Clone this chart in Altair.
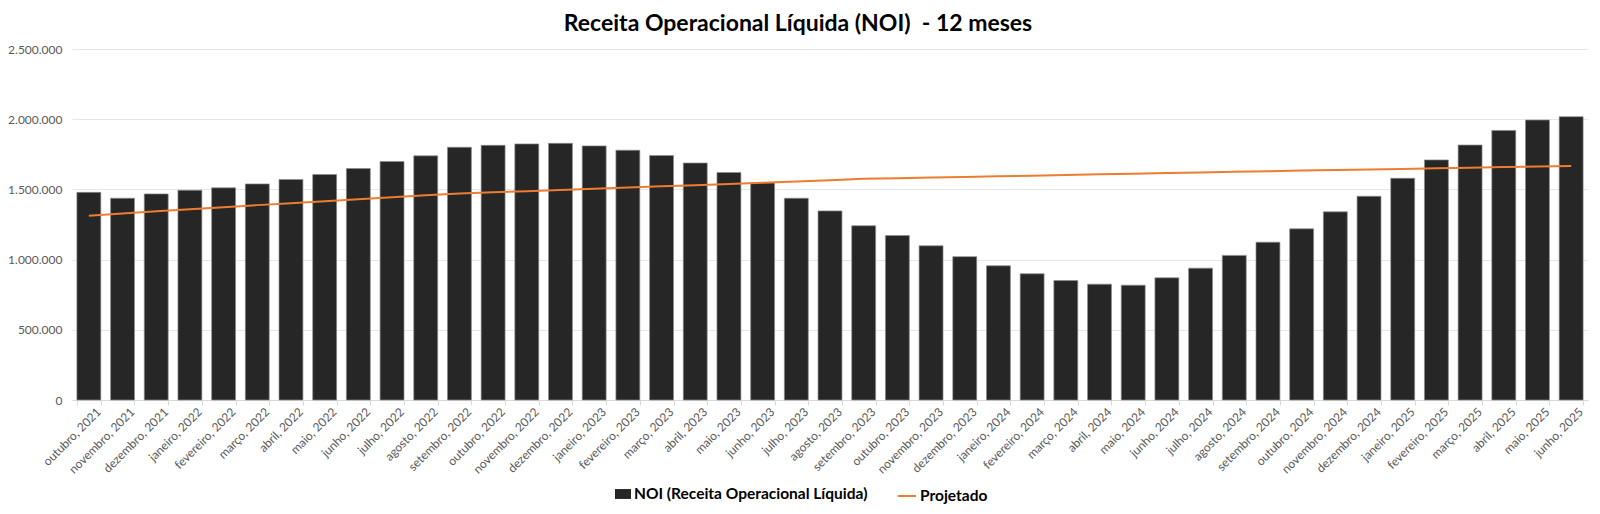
import altair as alt
import pandas as pd

meses = [
    "outubro, 2021", "novembro, 2021", "dezembro, 2021",
    "janeiro, 2022", "fevereiro, 2022", "março, 2022", "abril, 2022", "maio, 2022", "junho, 2022",
    "julho, 2022", "agosto, 2022", "setembro, 2022", "outubro, 2022", "novembro, 2022", "dezembro, 2022",
    "janeiro, 2023", "fevereiro, 2023", "março, 2023", "abril, 2023", "maio, 2023", "junho, 2023",
    "julho, 2023", "agosto, 2023", "setembro, 2023", "outubro, 2023", "novembro, 2023", "dezembro, 2023",
    "janeiro, 2024", "fevereiro, 2024", "março, 2024", "abril, 2024", "maio, 2024", "junho, 2024",
    "julho, 2024", "agosto, 2024", "setembro, 2024", "outubro, 2024", "novembro, 2024", "dezembro, 2024",
    "janeiro, 2025", "fevereiro, 2025", "março, 2025", "abril, 2025", "maio, 2025", "junho, 2025",
]

noi = [
    1479000, 1437000, 1468000,
    1494000, 1511000, 1539000, 1570000, 1606000, 1649000,
    1699000, 1739000, 1800000, 1814000, 1824000, 1828000,
    1810000, 1779000, 1741000, 1688000, 1620000, 1547000,
    1437000, 1347000, 1241000, 1171000, 1098000, 1021000,
    956000, 899000, 851000, 825000, 818000, 870000,
    939000, 1030000, 1124000, 1219000, 1340000, 1451000,
    1579000, 1710000, 1816000, 1920000, 1994000, 2018000,
]

projetado = [
    1313000, 1329000, 1344000,
    1359000, 1373000, 1388000, 1402000, 1416000, 1430000,
    1444000, 1458000, 1470000, 1479000, 1487000, 1496000,
    1505000, 1513000, 1522000, 1530000, 1539000, 1548000,
    1557000, 1566000, 1575000, 1580000, 1584000, 1589000,
    1594000, 1598000, 1603000, 1608000, 1612000, 1617000,
    1621000, 1625000, 1629000, 1634000, 1638000, 1642000,
    1646000, 1650000, 1654000, 1659000, 1663000, 1667000,
]

series = ["NOI (Receita Operacional Líquida)", "Projetado"]
y_ticks = [0, 500000, 1000000, 1500000, 2000000, 2500000]
y_domain = [0, 2500000]

df = pd.DataFrame({"mes": meses, "noi": noi, "proj": projetado})
df["s_noi"] = series[0]
df["s_proj"] = series[1]

FONT = "Lato"

x_enc = alt.X(
    "mes:N", sort=None, title=None,
    scale=alt.Scale(paddingInner=0.29, paddingOuter=0.145),
    axis=alt.Axis(
        labelAngle=-45, labelFontSize=12, labelColor="#595959", labelFont=FONT,
        tickBand="extent", tickSize=5, tickColor="#d9d9d9", domainColor="#d9d9d9",
        labelPadding=1, labelOffset=6, grid=False, labelOverlap=False,
    ),
)

y_scale = alt.Scale(domain=y_domain, nice=False, zero=True)

y_enc = alt.Y(
    "noi:Q", title=None, scale=y_scale,
    axis=alt.Axis(
        values=y_ticks, labelFontSize=12, labelColor="#595959", labelFont=FONT,
        labelExpr="replace(replace(format(datum.value, ','), ',', '.'), ',', '.')",
        domain=False, ticks=False, labelPadding=10, gridColor="#e6e6e6",
    ),
)

legend_common = dict(
    title=None, orient="none", direction="horizontal",
    labelFont=FONT, labelFontSize=15.5, labelFontWeight="bold", labelColor="#000000",
    labelOffset=3, labelLimit=400,
)

bars = alt.Chart(df).mark_bar(stroke="#8c8c8c", strokeWidth=0.7).encode(
    x=x_enc,
    y=y_enc,
    color=alt.Color(
        "s_noi:N",
        scale=alt.Scale(domain=[series[0]], range=["#262626"]),
        legend=alt.Legend(symbolType="M-1,-0.62H1V0.62H-1Z", symbolSize=256,
                          symbolStrokeWidth=0, legendX=543, legendY=437, **legend_common),
    ),
)

line = alt.Chart(df).mark_line(strokeWidth=2).encode(
    x=alt.X("mes:N", sort=None),
    y=alt.Y("proj:Q", scale=y_scale),
    color=alt.Color(
        "s_proj:N",
        scale=alt.Scale(domain=[series[1]], range=["#ED7D31"]),
        legend=alt.Legend(symbolType="stroke", symbolSize=324, symbolStrokeWidth=2,
                          legendX=825, legendY=437, **legend_common),
    ),
)

chart = alt.layer(bars, line).resolve_scale(color="independent").properties(
    width=1516, height=351,
    background="white",
    title=alt.TitleParams(
        "Receita Operacional Líquida (NOI)\u00a0 - 12 meses",
        font=FONT, fontSize=23, fontWeight="bold", color="#000000",
        anchor="middle", dx=-32, offset=7,
    ),
    autosize=alt.AutoSizeParams(type="none"),
    padding={"left": 72, "top": 49, "right": 12, "bottom": 114},
).configure_view(stroke=None)

chart.save("out.html", embed_options={"renderer": "svg", "actions": False})
